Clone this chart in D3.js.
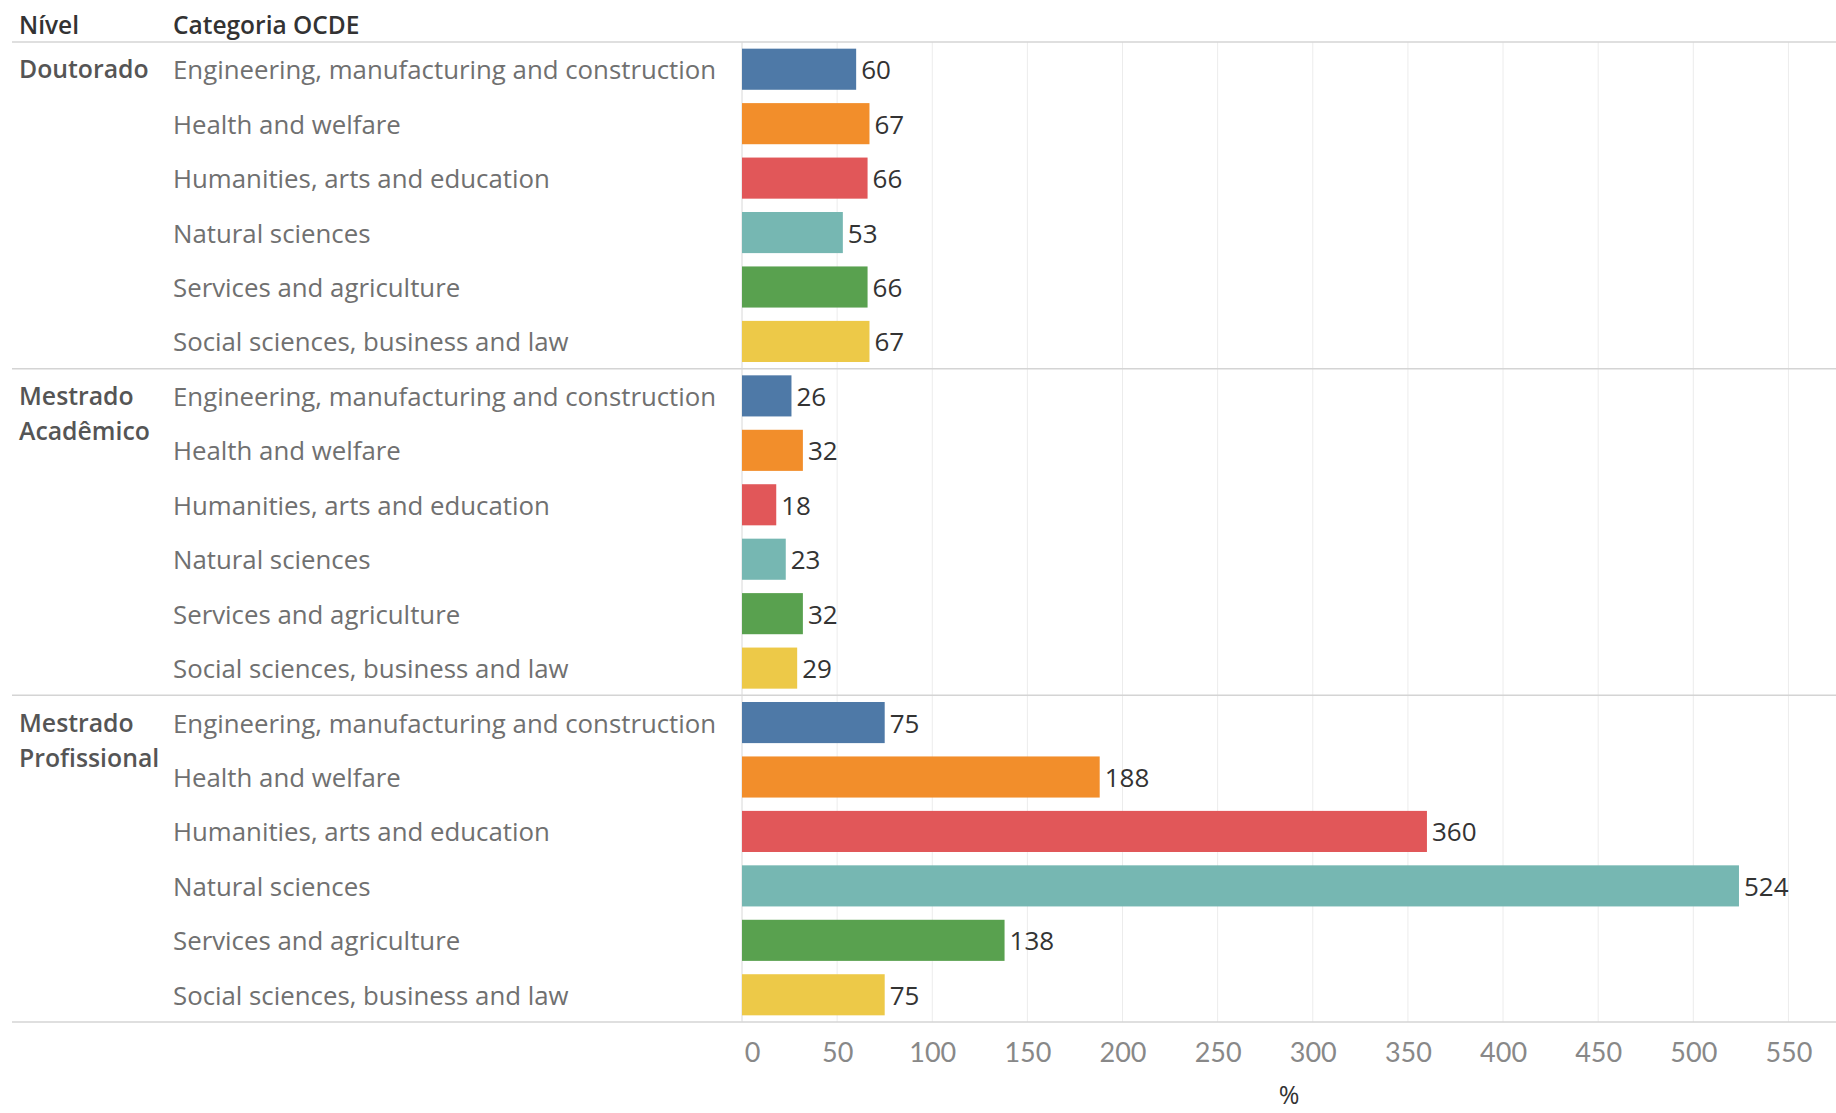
<!DOCTYPE html>
<html><head><meta charset="utf-8">
<script src="https://cdn.jsdelivr.net/npm/d3@7"></script>
<style>
html,body{margin:0;padding:0;background:#fff;}
svg{display:block;}
</style></head>
<body>
<svg id="chart" width="1836" height="1113"></svg>
<script>
const levels = ["Doutorado", "Mestrado Acadêmico", "Mestrado Profissional"];
const levelLines = [["Doutorado"], ["Mestrado", "Acadêmico"], ["Mestrado", "Profissional"]];
const categories = ["Engineering, manufacturing and construction", "Health and welfare", "Humanities, arts and education", "Natural sciences", "Services and agriculture", "Social sciences, business and law"];
const colors = ["#4e79a7", "#f28e2b", "#e15759", "#76b7b2", "#59a14f", "#edc948"];
const doutorado = [60, 67, 66, 53, 66, 67];
const mestradoAcademico = [26, 32, 18, 23, 32, 29];
const mestradoProfissional = [75, 188, 360, 524, 138, 75];
const tickValues = [0, 50, 100, 150, 200, 250, 300, 350, 400, 450, 500, 550];
const seriesByLevel = [doutorado, mestradoAcademico, mestradoProfissional];

(function () {
const font = "'Open Sans', Lato, sans-serif";
const fontLato = "Lato, 'Open Sans', sans-serif";
const svg = d3.select("#chart");
const W = 1836;
const plotTop = 42, plotBottom = 1022;
const x0 = 742;

const rows = [];
levels.forEach((lv, li) => categories.forEach((c, ci) => rows.push({level: lv, li, cat: c, ci, value: seriesByLevel[li][ci], key: lv + "|" + c})));

const x = d3.scaleLinear().domain([0, 575]).range([x0, W]);
const y = d3.scaleBand().domain(rows.map(d => d.key)).range([plotTop, plotBottom]).paddingInner(0.245).paddingOuter(0.1225);
const step = y.step();

// gridlines
svg.append("g").selectAll("line").data(tickValues.slice(1)).join("line")
  .attr("x1", d => x(d)).attr("x2", d => x(d)).attr("y1", plotTop).attr("y2", plotBottom)
  .attr("stroke", "#ececec").attr("stroke-width", 1);

// section separators
const sepY = [plotTop, plotTop + 6 * step, plotTop + 12 * step, plotBottom];
svg.append("g").selectAll("line").data(sepY).join("line")
  .attr("x1", 12).attr("x2", W).attr("y1", d => d).attr("y2", d => d)
  .attr("stroke", "#d4d4d4").attr("stroke-width", 1.5);

// zero axis
svg.append("line").attr("x1", x0).attr("x2", x0).attr("y1", plotTop).attr("y2", plotBottom)
  .attr("stroke", "#d8d8d8").attr("stroke-width", 1);

// headers
svg.append("text").attr("x", 19).attr("y", 34).text("Nível")
  .attr("font-family", font).attr("font-weight", 600).attr("font-size", 24.5).attr("fill", "#333");
svg.append("text").attr("x", 173).attr("y", 34).text("Categoria OCDE")
  .attr("font-family", font).attr("font-weight", 600).attr("font-size", 24.5).attr("fill", "#333");

// level labels
levelLines.forEach((lines, li) => {
  const firstKey = rows[li * 6].key;
  const cy = y(firstKey) + y.bandwidth() / 2;
  lines.forEach((t, i) => {
    svg.append("text").attr("x", 19).attr("y", cy + 9 + i * 35).text(t)
      .attr("font-family", font).attr("font-weight", 600).attr("font-size", 24.8).attr("fill", "#555");
  });
});

// category labels
svg.append("g").selectAll("text").data(rows).join("text")
  .attr("x", 173).attr("y", d => y(d.key) + y.bandwidth() / 2 + 10)
  .text(d => d.cat)
  .attr("font-family", font).attr("font-size", 25.8).attr("fill", "#707070");

// bars
svg.append("g").selectAll("rect").data(rows).join("rect")
  .attr("x", x(0)).attr("y", d => y(d.key))
  .attr("width", d => x(d.value) - x(0)).attr("height", y.bandwidth())
  .attr("fill", d => colors[d.ci]);

// value labels
svg.append("g").selectAll("text").data(rows).join("text")
  .attr("x", d => x(d.value) + 5).attr("y", d => y(d.key) + y.bandwidth() / 2 + 10)
  .text(d => d.value)
  .attr("font-family", font).attr("font-size", 26).attr("fill", "#333");

// x axis
const axis = d3.axisBottom(x).tickValues(tickValues).tickSize(0).tickPadding(0);
const ag = svg.append("g").attr("transform", `translate(0,${plotBottom})`).call(axis);
ag.select(".domain").remove();
ag.selectAll("text").attr("font-family", fontLato).attr("font-size", 27).attr("fill", "#888")
  .attr("dy", null).attr("y", 40)
  .attr("dx", d => d === 0 ? 10 : 0);

svg.append("text").attr("x", (x0 + W) / 2).attr("y", 1104).attr("text-anchor", "middle")
  .text("%").attr("font-family", font).attr("font-size", 25).attr("fill", "#333");
})();
</script>
</body></html>
